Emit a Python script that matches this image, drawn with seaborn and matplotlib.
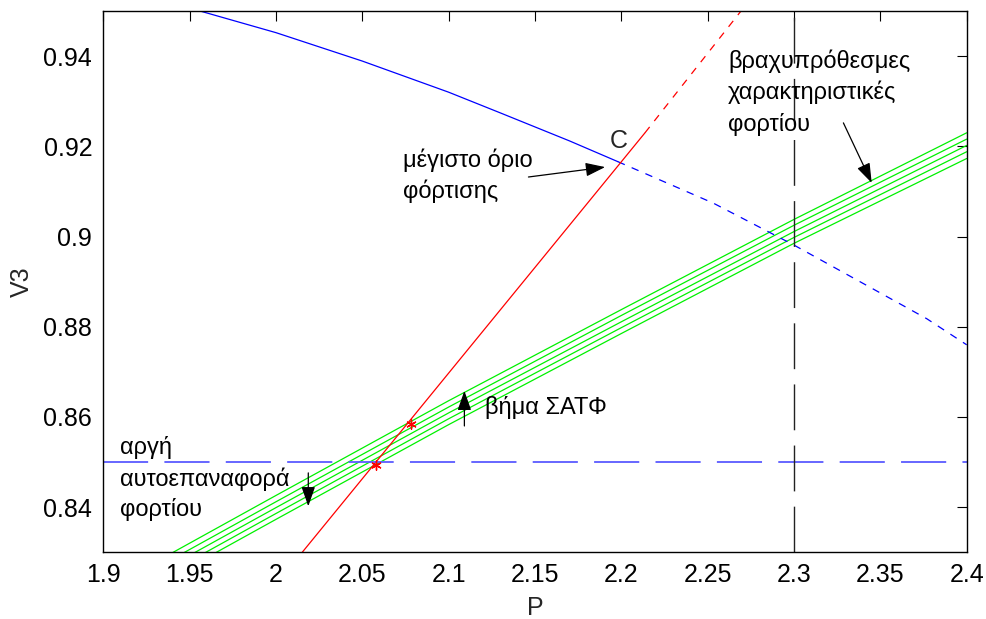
import numpy as np
import pandas as pd
import matplotlib
matplotlib.use("Agg")
import matplotlib.pyplot as plt
import seaborn as sns

# ---- data ----
# PV nose curve (stable part, solid) and its continuation (dashed)
pv_x = [1.950, 1.956, 2.000, 2.050, 2.100, 2.130, 2.170, 2.198]
pv_y = [0.9506, 0.9500, 0.9452, 0.9389, 0.9320, 0.9274, 0.9212, 0.9166]
pv_dash_x = [2.198, 2.2533, 2.300, 2.3768, 2.400]
pv_dash_y = [0.9166, 0.9074, 0.8981, 0.8818, 0.8760]

# maximum loading limit (red line)
red_x = [2.0152, 2.2137]
red_y = [0.8300, 0.9230]
red_dash_x = [2.2137, 2.2693]
red_dash_y = [0.9230, 0.9500]

# short-term load characteristics (green), one list per OLTC step
load_x = [1.94, 2.00, 2.10, 2.20, 2.30, 2.40]
load_1 = [0.8299, 0.8426, 0.8636, 0.8838, 0.9038, 0.9230]
load_2 = [0.8285, 0.8412, 0.8622, 0.8825, 0.9025, 0.9216]
load_3 = [0.8272, 0.8399, 0.8609, 0.8811, 0.9011, 0.9202]
load_4 = [0.8259, 0.8386, 0.8596, 0.8798, 0.8998, 0.9188]
load_5 = [0.8246, 0.8373, 0.8583, 0.8785, 0.8985, 0.9173]

# operating points (red stars)
star_x = [2.0579, 2.0780]
star_y = [0.8493, 0.8585]

# reference levels
v_slow = 0.85      # horizontal blue dashed
p_short = 2.30     # vertical black dash line

xticks = [1.9, 1.95, 2.0, 2.05, 2.1, 2.15, 2.2, 2.25, 2.3, 2.35, 2.4]
xticklabels = ["1.9", "1.95", "2", "2.05", "2.1", "2.15", "2.2", "2.25", "2.3", "2.35", "2.4"]
yticks = [0.84, 0.86, 0.88, 0.90, 0.92, 0.94]
yticklabels = ["0.84", "0.86", "0.88", "0.9", "0.92", "0.94"]

# ---- figure ----
sns.set_style("white")
plt.rcParams['font.family'] = ['Liberation Sans', 'DejaVu Sans']

fig = plt.figure(figsize=(9.86, 6.19), dpi=100)
ax = fig.add_axes([0.1048, 0.1078, 0.8756, 0.8744])

# green load characteristics
loads = [load_1, load_2, load_3, load_4, load_5]
df_load = pd.DataFrame({
    "P": np.concatenate([load_x] * len(loads)),
    "V": np.concatenate(loads),
    "k": np.repeat(np.arange(len(loads)), len(load_x)),
})
sns.lineplot(data=df_load, x="P", y="V", units="k", estimator=None, sort=False,
             color="#00f000", lw=0.9, ax=ax, legend=False)

# PV curve
sns.lineplot(x=pv_x, y=pv_y, sort=False, estimator=None, color="#0000ff", lw=0.9, ax=ax)
sns.lineplot(x=pv_dash_x, y=pv_dash_y, sort=False, estimator=None, color="#0000ff",
             lw=0.9, ax=ax, linestyle=(0, (6, 6)))

# red line
sns.lineplot(x=red_x, y=red_y, sort=False, estimator=None, color="#ff0000", lw=0.9, ax=ax)
sns.lineplot(x=red_dash_x, y=red_dash_y, sort=False, estimator=None, color="#ff0000",
             lw=0.9, ax=ax, linestyle=(0, (6, 6)))

# horizontal and vertical references
ax.axhline(v_slow, color="#5a5aff", lw=1.3, linestyle=(0, (25, 9)))
ax.axvline(p_short, color="#222222", lw=1.0, linestyle=(0, (33, 11)))

# stars (asterisk markers)
sns.scatterplot(x=star_x, y=star_y, marker=(6, 2, 0), color="#ff0000", s=45,
                edgecolor="#ff0000", linewidth=1.0, ax=ax, zorder=5)

ax.set_xlim(1.9, 2.4)
ax.set_ylim(0.83, 0.95)
ax.set_xticks(xticks)
ax.set_xticklabels(xticklabels)
ax.set_yticks(yticks)
ax.set_yticklabels(yticklabels)
ax.tick_params(direction="in", top=True, right=True, length=7, width=0.8,
               labelsize=18, pad=8, colors="black")
for s in ax.spines.values():
    s.set_color("black")
    s.set_linewidth(1.0)
ax.set_xlabel("P", fontsize=18, labelpad=6)
ax.set_ylabel("V3", fontsize=18, labelpad=7)

fs = 17
def txt(x, y, s, **kw):
    ax.text(x, y, s, fontsize=fs, ha="left", va="baseline", color="black", **kw)

ax.text(2.1984, 0.9212, "C", fontsize=18, ha="center", va="center")
txt(2.0737, 0.9155, "μέγιστο όριο")
txt(2.0737, 0.9085, "φόρτισης")
txt(2.2619, 0.9374, "βραχυπρόθεσμες")
txt(2.2619, 0.9304, "χαρακτηριστικές")
txt(2.2619, 0.9233, "φορτίου")
txt(2.1210, 0.8606, "βήμα ΣΑΤΦ")
txt(1.9097, 0.8517, "αργή")
txt(1.9097, 0.8448, "αυτοεπαναφορά")
txt(1.9097, 0.8380, "φορτίου")

arrow = dict(arrowstyle="-|>,head_length=1.2,head_width=0.42", color="black",
             lw=0.9, shrinkA=0, shrinkB=0)
ax.annotate("", xy=(2.1906, 0.9154), xytext=(2.1462, 0.9132), arrowprops=arrow)
ax.annotate("", xy=(2.3450, 0.9119), xytext=(2.3286, 0.9252), arrowprops=arrow)
ax.annotate("", xy=(2.1091, 0.8658), xytext=(2.1091, 0.8580), arrowprops=arrow)
ax.annotate("", xy=(2.0187, 0.8402), xytext=(2.0187, 0.8476), arrowprops=arrow)

fig.savefig("out.png", dpi=100)
